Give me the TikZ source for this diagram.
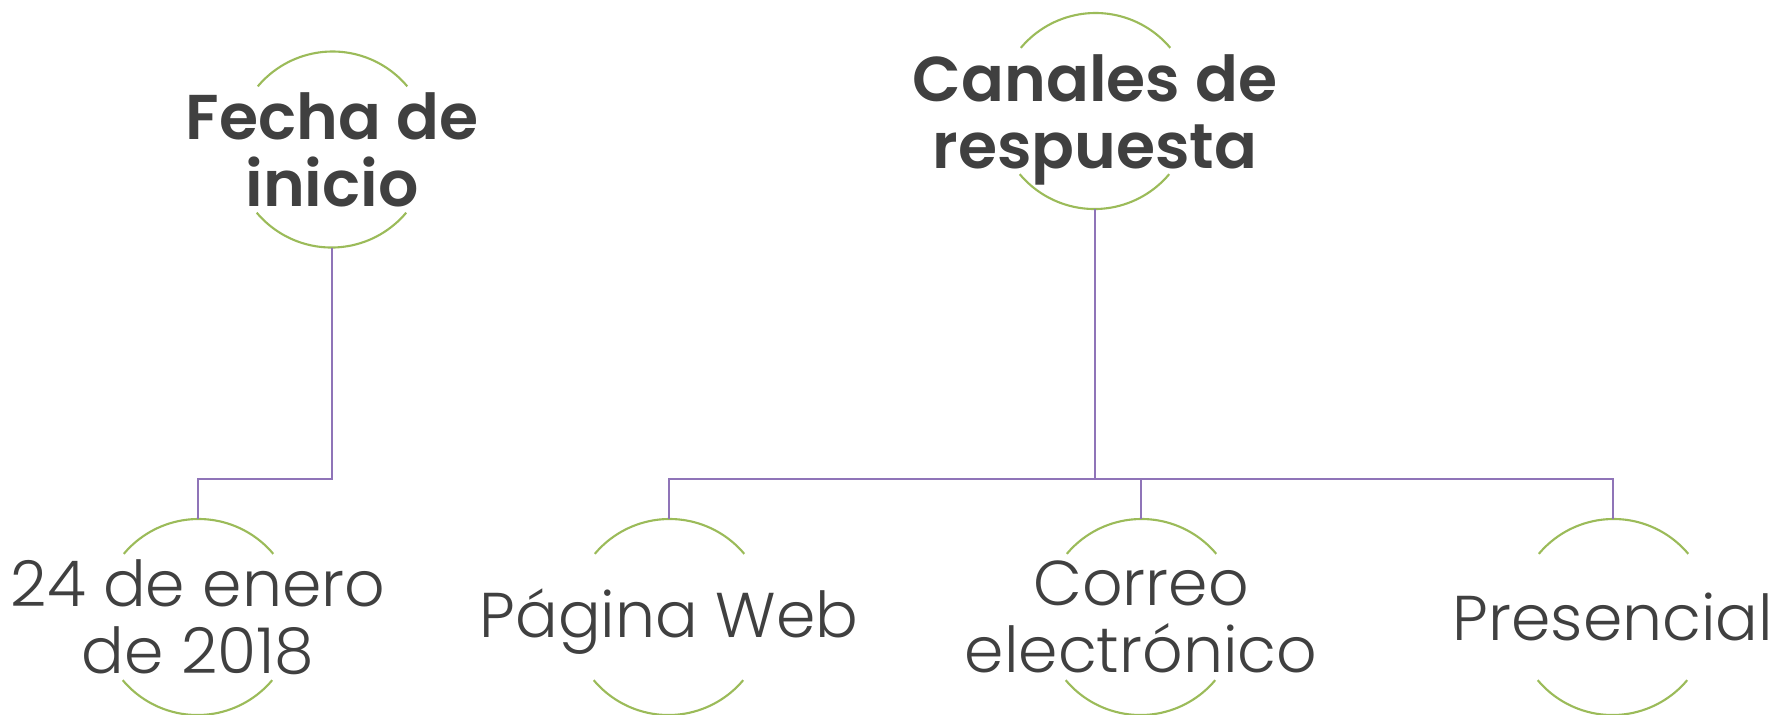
\documentclass[tikz,border=0pt]{standalone}
\usepackage{fontspec}
\IfFontExistsTF{Poppins Light}{%
  \setmainfont{Poppins Light}[BoldFont={Poppins SemiBold}]}{%
  \setmainfont{Poppins}}
\usepackage{tikz}

\definecolor{arcgreen}{HTML}{9BBB59}
\definecolor{linepurple}{HTML}{8F74B8}
\definecolor{textgray}{HTML}{404040}

\tikzset{
  ring/.style={circle, minimum size=1.95cm, inner sep=0pt},
  arco/.style={draw=arcgreen, line width=0.6pt},
  linea/.style={draw=linepurple, line width=0.6pt},
  titulo/.style={align=center, text=textgray, inner sep=0pt,
    font=\fontsize{18pt}{19pt}\selectfont\bfseries},
  valor/.style={align=center, text=textgray, inner sep=0pt,
    font=\fontsize{18pt}{19pt}\selectfont}
}

\begin{document}
\begin{tikzpicture}[x=0.01cm,y=0.01cm]
\useasboundingbox (0,0) rectangle (1775,-714);

% circles
\node [ring] (fecha) at (332,-149.5) {};
\node [ring] (canales) at (1095,-111) {};
\node [ring] (fechaval) at (198,-617) {};
\node [ring] (web) at (669,-617) {};
\node [ring] (correo) at (1141,-617) {};
\node [ring] (presencial) at (1613,-617) {};

% texts
\node [titulo] (fecha-t) at (fecha) {Fecha de\\inicio};
\node [titulo, yshift=-0.09cm] (canales-t) at (canales) {Canales de\\respuesta};
\node [valor] (fechaval-t) at (fechaval) {24 de enero\\de 2018};
\node [valor, yshift=-0.045cm] (web-t) at (web) {Página Web};
\node [valor] (correo-t) at (correo) {Correo\\electrónico};
\node [valor] (presencial-t) at (presencial) {Presencial};

\foreach \n in {fecha,canales,fechaval,web,correo,presencial}{
  \draw [arco] (\n.40) arc[start angle=40, end angle=140, radius=0.975cm];
  \draw [arco] (\n.220) arc[start angle=220, end angle=320, radius=0.975cm];
}

% connectors
\coordinate (bus1) at (332,-479);
\coordinate (bus2) at (1095,-479);
\draw [linea] (fecha.south) -- (bus1) -| (fechaval.north);
\draw [linea] (canales.south) -- (bus2);
\draw [linea] (web.north) -- (web.north |- bus2) -- (presencial.north |- bus2) -- (presencial.north);
\draw [linea] (correo.north) -- (correo.north |- bus2);
\end{tikzpicture}
\end{document}
